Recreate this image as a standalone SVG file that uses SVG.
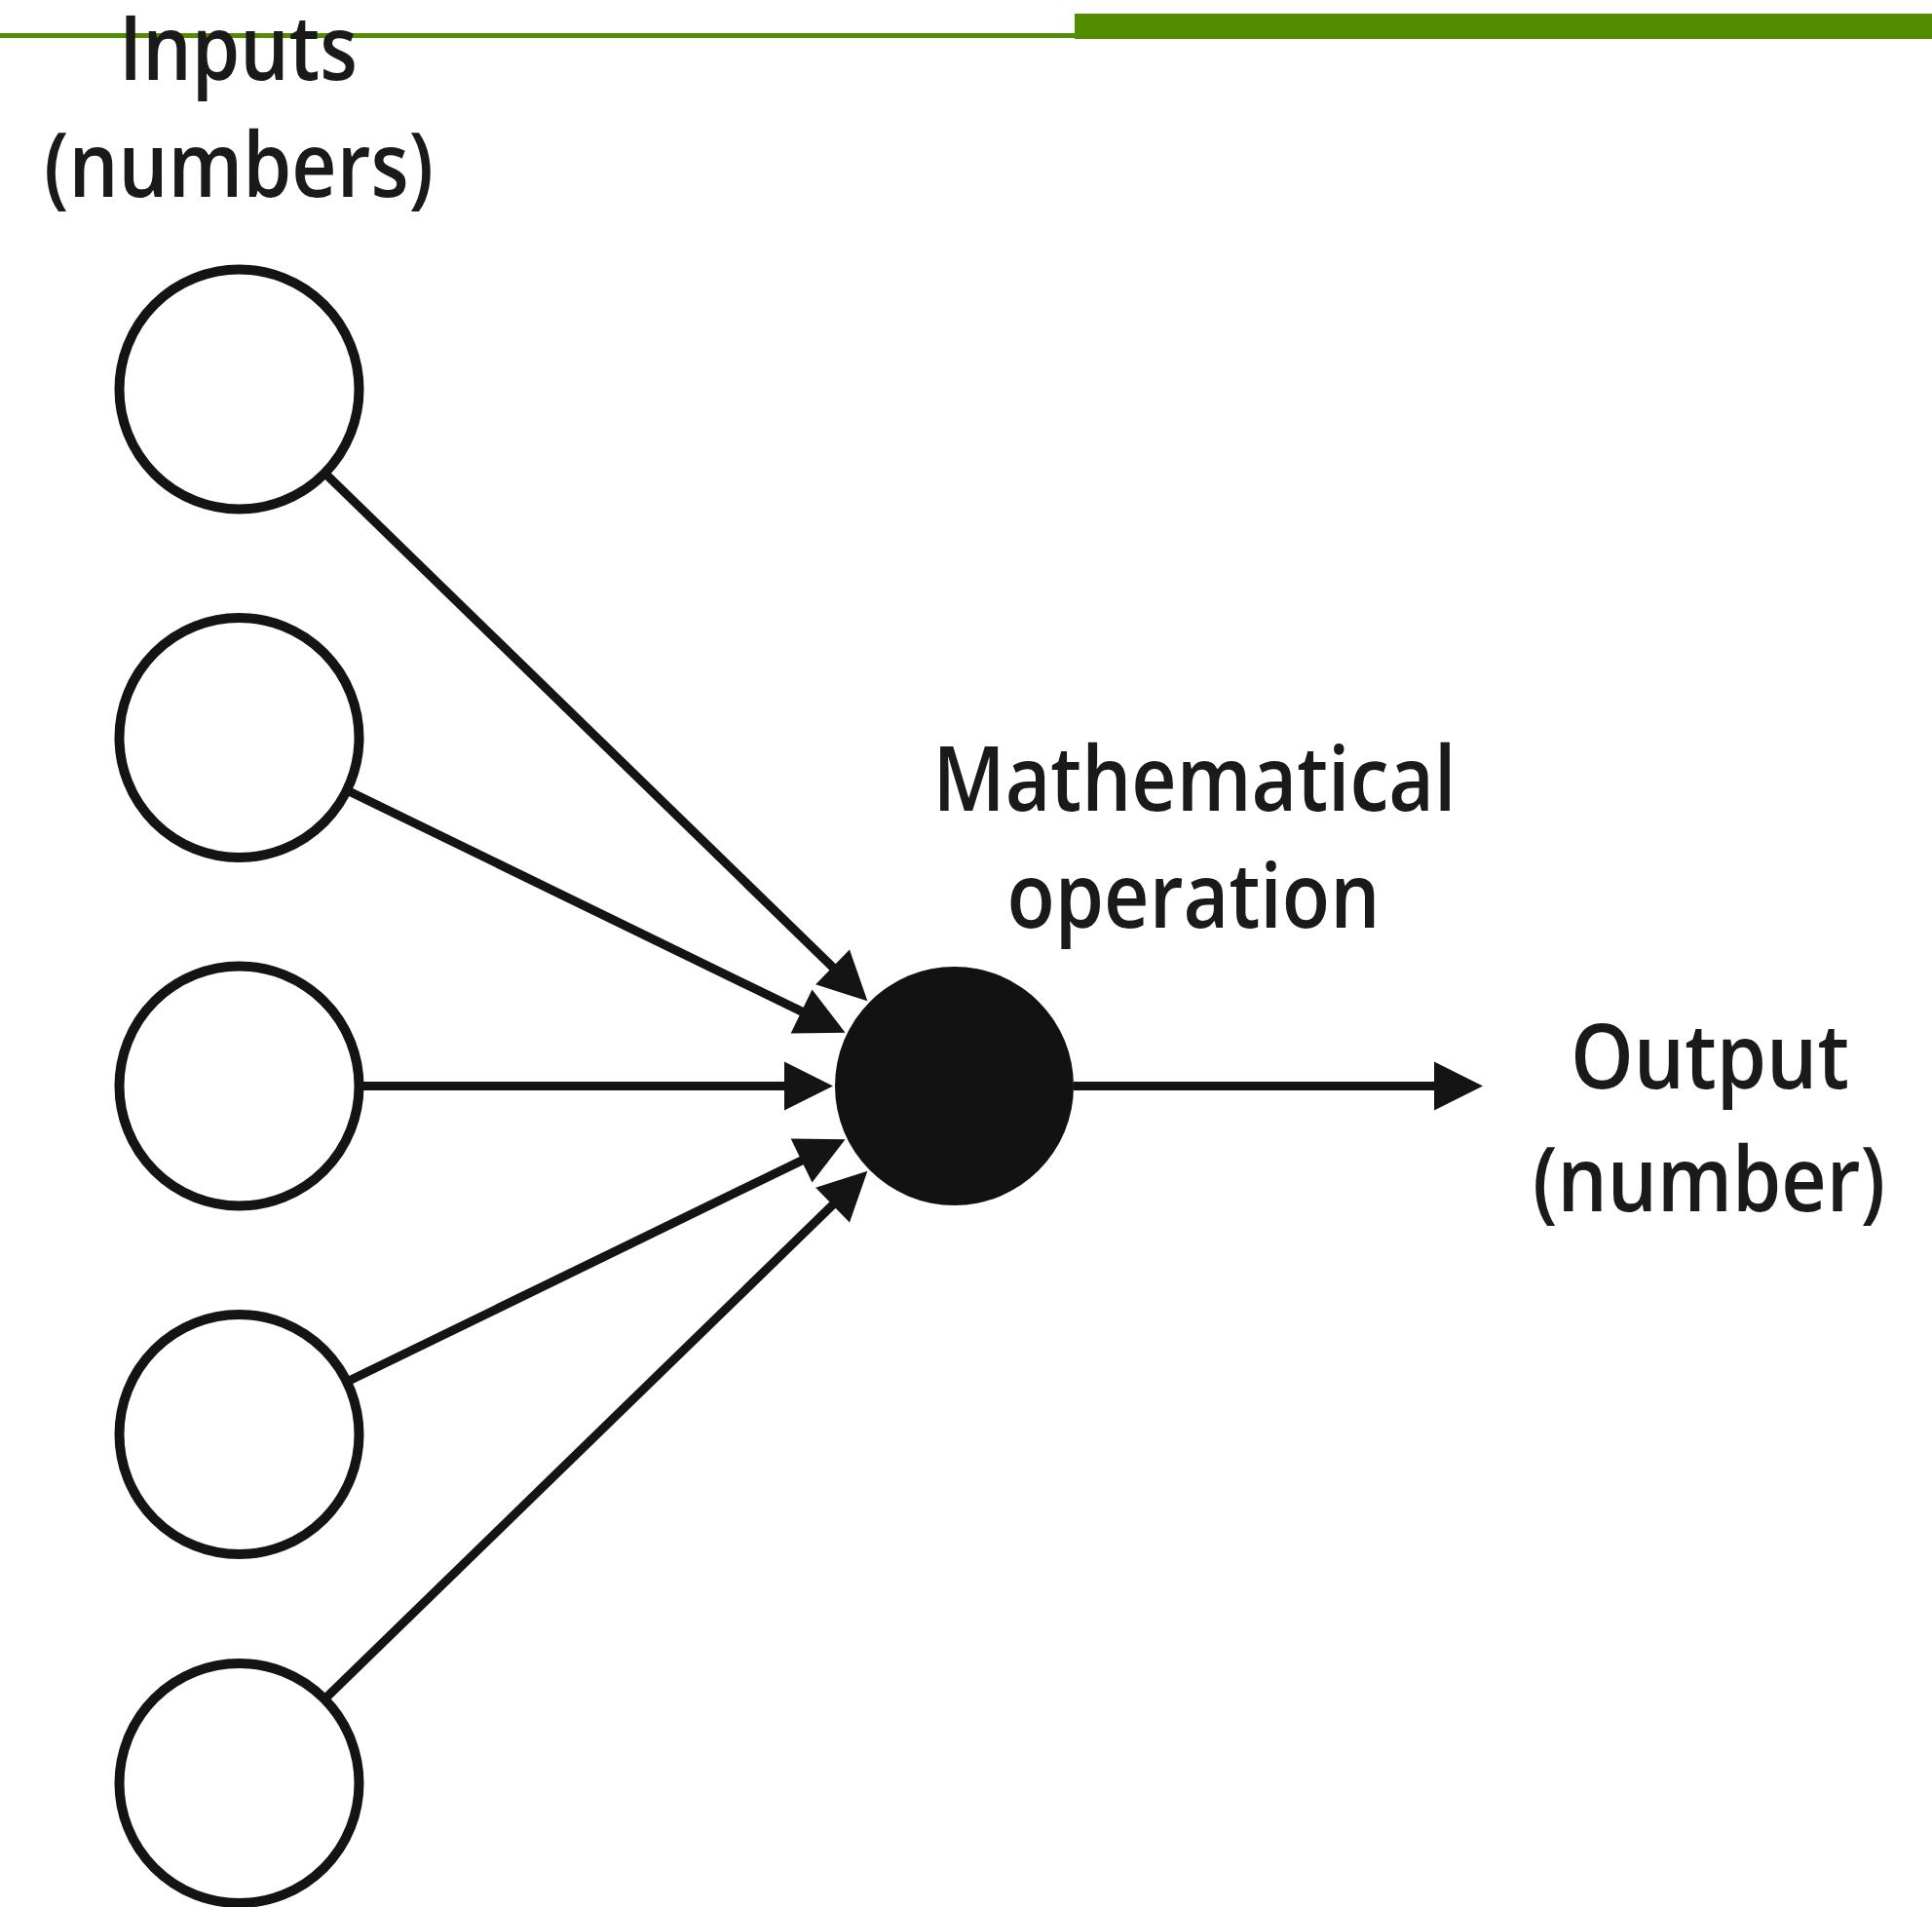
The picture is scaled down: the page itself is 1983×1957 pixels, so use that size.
<svg xmlns="http://www.w3.org/2000/svg" width="1983" height="1957" viewBox="0 0 1983 1957">
<style>
  .in { fill: #ffffff; stroke: #141414; stroke-width: 10; }
  .op { fill: #121212; }
  .lbl { font-family: "Open Sans", "Noto Sans", sans-serif; font-size: 92px; font-weight: 600; fill: #1a1a1a; text-anchor: middle; }
  .edge { stroke: #141414; stroke-width: 9; fill: none; marker-end: url(#arrow); }
  .bar { fill: #528c00; }
</style>
<defs>
  <marker id="arrow" markerUnits="userSpaceOnUse" viewBox="0 -25 50 50" markerWidth="50" markerHeight="50" refX="8" refY="0" orient="auto" overflow="visible">
    <path d="M0,-25 L50,0 L0,25 z" fill="#141414"/>
  </marker>
</defs>
<rect width="1983" height="1957" fill="#ffffff"/>
<g id="header">
  <rect class="bar" x="0" y="34" width="1103" height="5"/>
  <rect class="bar" x="1103" y="14" width="880" height="26"/>
</g>
<g id="connectors">
  <line class="edge" x1="336" y1="488" x2="860.3" y2="998"/>
  <line class="edge" x1="359.2" y1="812.5" x2="829.8" y2="1041.4"/>
  <line class="edge" x1="372" y1="1114.5" x2="813" y2="1114.5"/>
  <line class="edge" x1="359.2" y1="1416.5" x2="829.8" y2="1187.6"/>
  <line class="edge" x1="336" y1="1741" x2="860.3" y2="1231"/>
  <line class="edge" x1="1102" y1="1114.5" x2="1480" y2="1114.5"/>
</g>
<g id="input1"><circle class="in" cx="245.5" cy="399.5" r="123"/></g>
<g id="input2"><circle class="in" cx="245.5" cy="757" r="123"/></g>
<g id="input3"><circle class="in" cx="245.5" cy="1114.5" r="123"/></g>
<g id="input4"><circle class="in" cx="245.5" cy="1472" r="123"/></g>
<g id="input5"><circle class="in" cx="245.5" cy="1830" r="123"/></g>
<g id="operation"><circle class="op" cx="979.5" cy="1114.5" r="122.5"/></g>
<g id="label-inputs">
  <text class="lbl" x="244.5" y="82" textLength="245" lengthAdjust="spacingAndGlyphs">Inputs</text>
  <text class="lbl" x="245" y="202" textLength="400" lengthAdjust="spacingAndGlyphs">(numbers)</text>
</g>
<g id="label-operation">
  <text class="lbl" x="1226" y="832" textLength="537" lengthAdjust="spacingAndGlyphs">Mathematical</text>
  <text class="lbl" x="1225" y="952" textLength="383" lengthAdjust="spacingAndGlyphs">operation</text>
</g>
<g id="label-output">
  <text class="lbl" x="1755" y="1117" textLength="286" lengthAdjust="spacingAndGlyphs">Output</text>
  <text class="lbl" x="1754" y="1243" textLength="362" lengthAdjust="spacingAndGlyphs">(number)</text>
</g>
</svg>
